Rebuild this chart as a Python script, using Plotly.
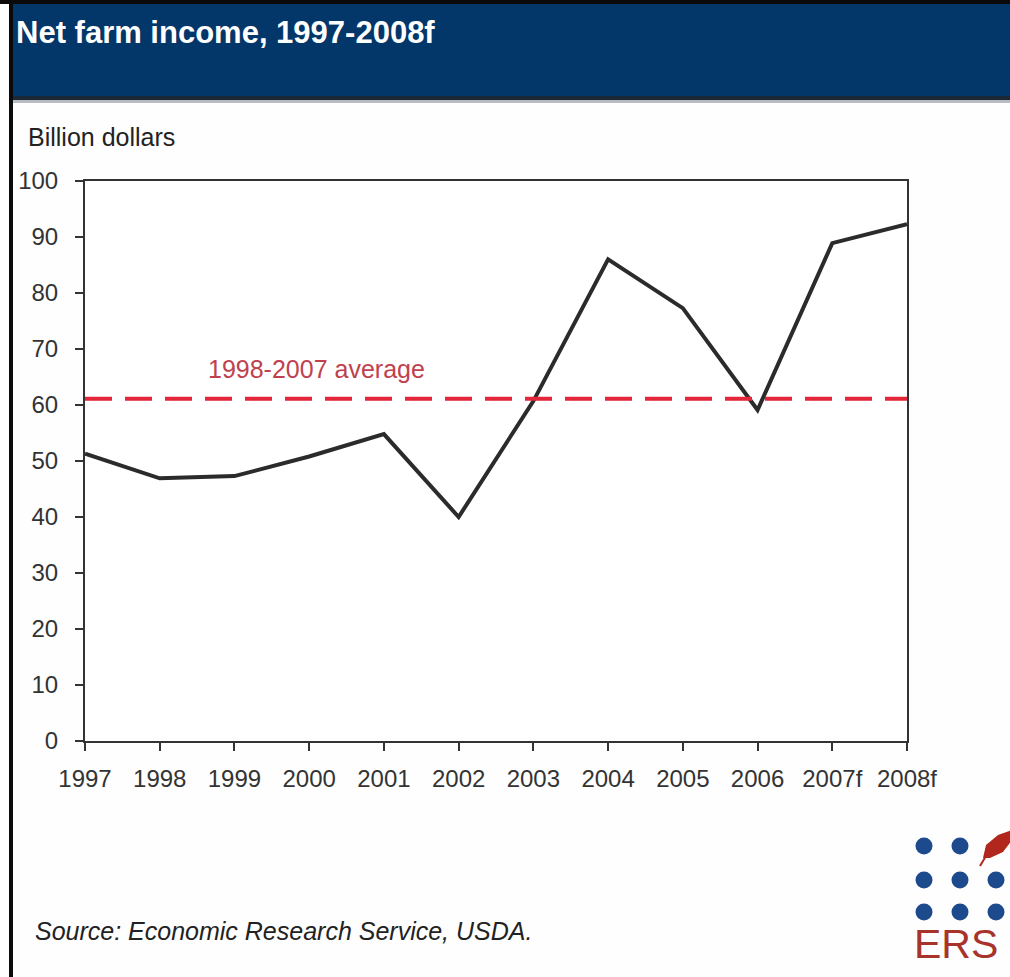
import plotly.graph_objects as go

# ---------------- data ----------------
years = ["1997", "1998", "1999", "2000", "2001", "2002",
         "2003", "2004", "2005", "2006", "2007f", "2008f"]
net_farm_income = [51.3, 46.9, 47.3, 50.8, 54.8, 40.0,
                   60.7, 86.0, 77.3, 59.1, 88.9, 92.3]
average_1998_2007 = 61.1
y_ticks = [0, 10, 20, 30, 40, 50, 60, 70, 80, 90, 100]

# ---------------- layout geometry (pixels) ----------------
W, H = 1010, 977
L, R, T, B = 85, 103, 181, 236
PW, PH = W - L - R, H - T - B


def px(x):
    return (x - L) / PW


def py(y):
    return (H - B - y) / PH


FONT = "Liberation Sans, Arial, sans-serif"
AXIS = "#333333"

xs = list(range(len(years)))

fig = go.Figure()

fig.add_trace(go.Scatter(
    x=xs, y=net_farm_income, mode="lines",
    line=dict(color="#2b2b2b", width=4),
    hoverinfo="skip", showlegend=False, cliponaxis=False,
))

fig.add_trace(go.Scatter(
    x=[xs[0], xs[-1]], y=[average_1998_2007, average_1998_2007], mode="lines",
    line=dict(color="#e3263a", width=4, dash="27px,13px"),
    hoverinfo="skip", showlegend=False,
))

shapes = []
# title bar
shapes.append(dict(type="rect", xref="paper", yref="paper", layer="below",
                   x0=px(12), x1=px(1012), y0=py(97), y1=py(3),
                   fillcolor="#033669", line=dict(width=0)))
shapes.append(dict(type="rect", xref="paper", yref="paper", layer="below",
                   x0=px(12), x1=px(1012), y0=py(100), y1=py(96),
                   fillcolor="#1b2838", line=dict(width=0)))
shapes.append(dict(type="rect", xref="paper", yref="paper", layer="below",
                   x0=px(12), x1=px(1012), y0=py(103), y1=py(100),
                   fillcolor="#b8bcc2", line=dict(width=0)))
# frame: top and left black edges
shapes.append(dict(type="rect", xref="paper", yref="paper", layer="below",
                   x0=px(0), x1=px(1012), y0=py(4), y1=py(-2),
                   fillcolor="#0a0a0a", line=dict(width=0)))
shapes.append(dict(type="rect", xref="paper", yref="paper", layer="below",
                   x0=px(9), x1=px(13), y0=py(980), y1=py(-2),
                   fillcolor="#0a0a0a", line=dict(width=0)))

# ERS logo: 3x3 dot grid (top-right replaced by a leaf)
dot_cx = [924, 960, 996]
dot_cy = [846, 880, 912]
rdot = 8.5
for j, cy in enumerate(dot_cy):
    for i, cx in enumerate(dot_cx):
        if j == 0 and i == 2:
            continue
        shapes.append(dict(type="circle", xref="paper", yref="paper",
                           x0=px(cx - rdot), x1=px(cx + rdot),
                           y0=py(cy + rdot), y1=py(cy - rdot),
                           fillcolor="#1c4a8c", line=dict(width=0)))
# leaf
leaf_pts = [(983, 858), (986, 845), (998, 835), (1012, 830), (1012, 840), (1003, 852), (990, 858)]
path = "M " + " L ".join(f"{px(x):.5f},{py(y):.5f}" for x, y in leaf_pts) + " Z"
shapes.append(dict(type="path", xref="paper", yref="paper", path=path,
                   fillcolor="#b1271d", line=dict(width=0)))
shapes.append(dict(type="line", xref="paper", yref="paper",
                   x0=px(980), y0=py(866), x1=px(986), y1=py(856),
                   line=dict(color="#b1271d", width=2)))

annotations = [
    dict(text="<b>Net farm income, 1997-2008f</b>", xref="paper", yref="paper",
         x=px(14), y=py(32), xanchor="left", yanchor="middle", showarrow=False,
         font=dict(family=FONT, size=31, color="white")),
    dict(text="Billion dollars", xref="paper", yref="paper",
         x=px(26), y=py(137), xanchor="left", yanchor="middle", showarrow=False,
         font=dict(family=FONT, size=25, color="#222222")),
    dict(text="1998-2007 average", xref="paper", yref="paper",
         x=px(206), y=py(369), xanchor="left", yanchor="middle", showarrow=False,
         font=dict(family=FONT, size=25, color="#c0414e")),
    dict(text="<i>Source: Economic Research Service, USDA.</i>", xref="paper", yref="paper",
         x=px(33), y=py(931), xanchor="left", yanchor="middle", showarrow=False,
         font=dict(family=FONT, size=25, color="#222222")),
    dict(text="ERS", xref="paper", yref="paper",
         x=px(912), y=py(944), xanchor="left", yanchor="middle", showarrow=False,
         font=dict(family=FONT, size=41, color="#a8332b")),
]

fig.update_layout(
    width=W, height=H,
    margin=dict(l=L, r=R, t=T, b=B, pad=0),
    paper_bgcolor="#fefefe",
    plot_bgcolor="#ffffff",
    showlegend=False,
    shapes=shapes,
    annotations=annotations,
    xaxis=dict(
        range=[0, 11], tickmode="array", tickvals=xs, ticktext=years,
        showgrid=False, zeroline=False,
        showline=True, linecolor=AXIS, linewidth=2, mirror=True,
        ticks="outside", ticklen=8, tickwidth=2, tickcolor=AXIS,
        ticklabelstandoff=7,
        tickfont=dict(family=FONT, size=24, color="#333333"),
    ),
    yaxis=dict(
        range=[0, 100], tickmode="array", tickvals=y_ticks,
        showgrid=False, zeroline=False,
        showline=True, linecolor=AXIS, linewidth=2, mirror=True,
        ticks="outside", ticklen=8, tickwidth=2, tickcolor=AXIS,
        ticklabelstandoff=12,
        tickfont=dict(family=FONT, size=24, color="#333333"),
    ),
)

fig.write_html("out.html")
